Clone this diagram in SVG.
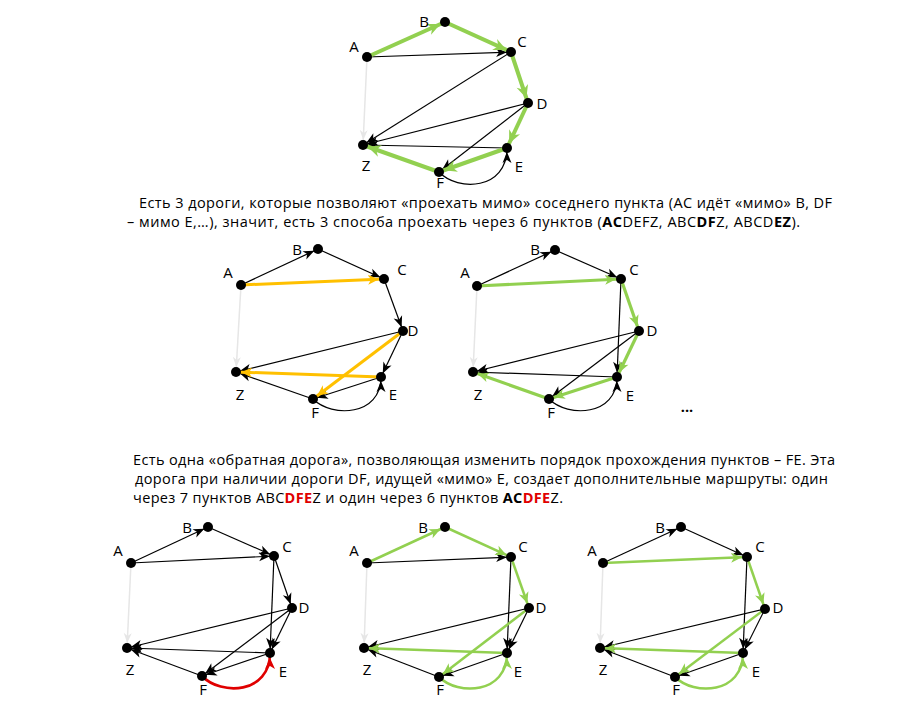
<svg xmlns="http://www.w3.org/2000/svg" width="906" height="716" viewBox="0 0 906 716">
<style>
.k{stroke:#000;stroke-width:1.2;fill:none;marker-end:url(#mk)}
.w{stroke:#e6e6e6;stroke-width:1.5;fill:none;marker-end:url(#mw)}
.g4{stroke:#92D050;stroke-width:4;fill:none;marker-end:url(#mg4)}
.g3{stroke:#92D050;stroke-width:3.2;fill:none;marker-end:url(#mg)}
.g2{stroke:#92D050;stroke-width:2.5;fill:none;marker-end:url(#mg)}
.o{stroke:#FFC000;stroke-width:3;fill:none;marker-end:url(#mo)}
.r{stroke:#E00000;stroke-width:2.6;fill:none;marker-end:url(#mr)}
.n circle{fill:#000}
.n text{font-family:"Open Sans","Liberation Sans",sans-serif;font-size:15px;text-anchor:middle;fill:#000}
.t{font-family:"Open Sans","Liberation Sans",sans-serif;font-size:14.5px;fill:#000}
.b{font-weight:bold}
.rd{font-weight:bold;fill:#E00000}
</style>
<defs>
<marker id="mk" markerUnits="userSpaceOnUse" markerWidth="20" markerHeight="10" refX="15" refY="4.5" orient="auto" overflow="visible"><path d="M0,0 L11,4.5 L0,9 L3,4.5 z" fill="#000"/></marker>
<marker id="mw" markerUnits="userSpaceOnUse" markerWidth="20" markerHeight="10" refX="15" refY="4" orient="auto" overflow="visible"><path d="M0,0 L10,4 L0,8 L3,4 z" fill="#e6e6e6"/></marker>
<marker id="mg4" markerUnits="userSpaceOnUse" markerWidth="24" markerHeight="14" refX="18" refY="6" orient="auto" overflow="visible"><path d="M0,0 L13,6 L0,12 L4,6 z" fill="#92D050"/></marker>
<marker id="mg" markerUnits="userSpaceOnUse" markerWidth="22" markerHeight="12" refX="16" refY="5" orient="auto" overflow="visible"><path d="M0,0 L11,5 L0,10 L3,5 z" fill="#92D050"/></marker>
<marker id="mo" markerUnits="userSpaceOnUse" markerWidth="22" markerHeight="12" refX="16" refY="5" orient="auto" overflow="visible"><path d="M0,0 L11,5 L0,10 L3,5 z" fill="#FFC000"/></marker>
<marker id="mr" markerUnits="userSpaceOnUse" markerWidth="22" markerHeight="12" refX="16" refY="5" orient="auto" overflow="visible"><path d="M0,0 L11,5 L0,10 L3,5 z" fill="#E00000"/></marker>
</defs>

<g id="connectors">
<g id="c1">
<line class="w" x1="367" y1="57" x2="363" y2="145"/>
<line class="k" x1="367" y1="57" x2="511" y2="52"/>
<line class="k" x1="511" y1="52" x2="363" y2="145"/>
<line class="k" x1="528" y1="103" x2="363" y2="145"/>
<line class="k" x1="507" y1="148" x2="363" y2="145"/>
<line class="k" x1="528" y1="103" x2="439" y2="172"/>
<path class="k" d="M439,172 C458,192 507,190 507,148"/>
<line class="g4" x1="367" y1="57" x2="445" y2="22"/>
<line class="g4" x1="445" y1="22" x2="511" y2="52"/>
<line class="g4" x1="511" y1="52" x2="528" y2="103"/>
<line class="g4" x1="528" y1="103" x2="507" y2="148"/>
<line class="g4" x1="507" y1="148" x2="439" y2="172"/>
<line class="g4" x1="439" y1="172" x2="363" y2="145"/>
</g>
<g id="c2">
<line class="w" x1="241" y1="285" x2="236" y2="372"/>
<line class="k" x1="241" y1="285" x2="318" y2="249"/>
<line class="k" x1="318" y1="249" x2="384" y2="279"/>
<line class="k" x1="384" y1="279" x2="403" y2="331"/>
<line class="k" x1="403" y1="331" x2="381" y2="377"/>
<line class="k" x1="381" y1="377" x2="313" y2="399"/>
<line class="k" x1="313" y1="399" x2="236" y2="372"/>
<line class="k" x1="403" y1="331" x2="236" y2="372"/>
<path class="k" d="M313,399 C332,418 381,416 381,377"/>
<line class="o" x1="241" y1="285" x2="384" y2="279"/>
<line class="o" x1="381" y1="377" x2="236" y2="372"/>
<line class="o" x1="403" y1="331" x2="313" y2="399"/>
</g>
<g id="c3">
<line class="w" x1="477" y1="286" x2="473" y2="372"/>
<line class="k" x1="477" y1="286" x2="555" y2="250"/>
<line class="k" x1="555" y1="250" x2="621" y2="279"/>
<line class="k" x1="621" y1="279" x2="617" y2="377"/>
<line class="k" x1="639" y1="331" x2="473" y2="372"/>
<line class="k" x1="617" y1="377" x2="473" y2="372"/>
<line class="k" x1="639" y1="331" x2="549" y2="399"/>
<path class="k" d="M549,399 C568,418 617,416 617,377"/>
<line class="g3" x1="477" y1="286" x2="621" y2="279"/>
<line class="g3" x1="621" y1="279" x2="639" y2="331"/>
<line class="g3" x1="639" y1="331" x2="617" y2="377"/>
<line class="g3" x1="617" y1="377" x2="549" y2="399"/>
<line class="g3" x1="549" y1="399" x2="473" y2="372"/>
</g>
<g id="c4">
<line class="w" x1="131" y1="563" x2="127" y2="648"/>
<line class="k" x1="131" y1="563" x2="208" y2="527"/>
<line class="k" x1="208" y1="527" x2="274" y2="556"/>
<line class="k" x1="131" y1="563" x2="274" y2="556"/>
<line class="k" x1="274" y1="556" x2="292" y2="608"/>
<line class="k" x1="274" y1="556" x2="270" y2="653"/>
<line class="k" x1="292" y1="608" x2="270" y2="653"/>
<line class="k" x1="292" y1="608" x2="202" y2="676"/>
<line class="k" x1="292" y1="608" x2="127" y2="648"/>
<line class="k" x1="270" y1="653" x2="127" y2="648"/>
<line class="k" x1="270" y1="653" x2="202" y2="676"/>
<line class="k" x1="202" y1="676" x2="127" y2="648"/>
<path class="r" d="M202,676 C221,696 270,694 270,653"/>
</g>
<g id="c5">
<line class="w" x1="367" y1="563" x2="364" y2="648"/>
<line class="k" x1="367" y1="563" x2="511" y2="557"/>
<line class="k" x1="511" y1="557" x2="507" y2="653"/>
<line class="k" x1="529" y1="608" x2="507" y2="653"/>
<line class="k" x1="529" y1="608" x2="364" y2="648"/>
<line class="k" x1="507" y1="653" x2="439" y2="677"/>
<line class="k" x1="439" y1="677" x2="364" y2="648"/>
<line class="g2" x1="367" y1="563" x2="445" y2="527"/>
<line class="g2" x1="445" y1="527" x2="511" y2="557"/>
<line class="g2" x1="511" y1="557" x2="529" y2="608"/>
<line class="g2" x1="529" y1="608" x2="439" y2="677"/>
<path class="g2" d="M439,677 C458,696 507,694 507,653"/>
<line class="g2" x1="507" y1="653" x2="364" y2="648"/>
</g>
<g id="c6">
<line class="w" x1="603" y1="563" x2="600" y2="648"/>
<line class="k" x1="603" y1="563" x2="681" y2="527"/>
<line class="k" x1="681" y1="527" x2="747" y2="557"/>
<line class="k" x1="747" y1="557" x2="743" y2="653"/>
<line class="k" x1="765" y1="609" x2="743" y2="653"/>
<line class="k" x1="765" y1="609" x2="600" y2="648"/>
<line class="k" x1="743" y1="653" x2="675" y2="677"/>
<line class="k" x1="675" y1="677" x2="600" y2="648"/>
<line class="g2" x1="603" y1="563" x2="747" y2="557"/>
<line class="g2" x1="747" y1="557" x2="765" y2="609"/>
<line class="g2" x1="765" y1="609" x2="675" y2="677"/>
<path class="g2" d="M675,677 C694,696 743,694 743,653"/>
<line class="g2" x1="743" y1="653" x2="600" y2="648"/>
</g>
</g>

<g id="g1-A" class="n"><circle cx="367" cy="57" r="5"/><text x="354" y="52">A</text></g>
<g id="g1-B" class="n"><circle cx="445" cy="22" r="5"/><text x="424" y="27">B</text></g>
<g id="g1-C" class="n"><circle cx="511" cy="52" r="5"/><text x="522" y="47">C</text></g>
<g id="g1-D" class="n"><circle cx="528" cy="103" r="5"/><text x="542" y="109">D</text></g>
<g id="g1-E" class="n"><circle cx="507" cy="148" r="5"/><text x="519" y="172">E</text></g>
<g id="g1-F" class="n"><circle cx="439" cy="172" r="5"/><text x="440" y="188">F</text></g>
<g id="g1-Z" class="n"><circle cx="363" cy="145" r="5"/><text x="366" y="171">Z</text></g>

<g id="g2-A" class="n"><circle cx="241" cy="285" r="5"/><text x="228" y="278">A</text></g>
<g id="g2-B" class="n"><circle cx="318" cy="249" r="5"/><text x="297" y="255">B</text></g>
<g id="g2-C" class="n"><circle cx="384" cy="279" r="5"/><text x="402" y="275">C</text></g>
<g id="g2-D" class="n"><circle cx="403" cy="331" r="5"/><text x="413" y="336">D</text></g>
<g id="g2-E" class="n"><circle cx="381" cy="377" r="5"/><text x="393" y="400">E</text></g>
<g id="g2-F" class="n"><circle cx="313" cy="399" r="5"/><text x="315" y="418">F</text></g>
<g id="g2-Z" class="n"><circle cx="236" cy="372" r="5"/><text x="240" y="400">Z</text></g>

<g id="g3-A" class="n"><circle cx="477" cy="286" r="5"/><text x="465" y="278">A</text></g>
<g id="g3-B" class="n"><circle cx="555" cy="250" r="5"/><text x="535" y="255">B</text></g>
<g id="g3-C" class="n"><circle cx="621" cy="279" r="5"/><text x="634" y="275">C</text></g>
<g id="g3-D" class="n"><circle cx="639" cy="331" r="5"/><text x="652" y="336">D</text></g>
<g id="g3-E" class="n"><circle cx="617" cy="377" r="5"/><text x="630" y="401">E</text></g>
<g id="g3-F" class="n"><circle cx="549" cy="399" r="5"/><text x="551" y="418">F</text></g>
<g id="g3-Z" class="n"><circle cx="473" cy="372" r="5"/><text x="478" y="400">Z</text></g>
<text class="t b" x="687" y="412" text-anchor="middle">...</text>

<g id="g4-A" class="n"><circle cx="131" cy="563" r="5"/><text x="118" y="556">A</text></g>
<g id="g4-B" class="n"><circle cx="208" cy="527" r="5"/><text x="187" y="533">B</text></g>
<g id="g4-C" class="n"><circle cx="274" cy="556" r="5"/><text x="287" y="552">C</text></g>
<g id="g4-D" class="n"><circle cx="292" cy="608" r="5"/><text x="304" y="613">D</text></g>
<g id="g4-E" class="n"><circle cx="270" cy="653" r="5"/><text x="283" y="677">E</text></g>
<g id="g4-F" class="n"><circle cx="202" cy="676" r="5"/><text x="203" y="695">F</text></g>
<g id="g4-Z" class="n"><circle cx="127" cy="648" r="5"/><text x="130" y="675">Z</text></g>

<g id="g5-A" class="n"><circle cx="367" cy="563" r="5"/><text x="354" y="556">A</text></g>
<g id="g5-B" class="n"><circle cx="445" cy="527" r="5"/><text x="423" y="533">B</text></g>
<g id="g5-C" class="n"><circle cx="511" cy="557" r="5"/><text x="523" y="552">C</text></g>
<g id="g5-D" class="n"><circle cx="529" cy="608" r="5"/><text x="541" y="613">D</text></g>
<g id="g5-E" class="n"><circle cx="507" cy="653" r="5"/><text x="518" y="677">E</text></g>
<g id="g5-F" class="n"><circle cx="439" cy="677" r="5"/><text x="440" y="695">F</text></g>
<g id="g5-Z" class="n"><circle cx="364" cy="648" r="5"/><text x="367" y="675">Z</text></g>

<g id="g6-A" class="n"><circle cx="603" cy="563" r="5"/><text x="592" y="556">A</text></g>
<g id="g6-B" class="n"><circle cx="681" cy="527" r="5"/><text x="660" y="533">B</text></g>
<g id="g6-C" class="n"><circle cx="747" cy="557" r="5"/><text x="760" y="552">C</text></g>
<g id="g6-D" class="n"><circle cx="765" cy="609" r="5"/><text x="778" y="613">D</text></g>
<g id="g6-E" class="n"><circle cx="743" cy="653" r="5"/><text x="756" y="677">E</text></g>
<g id="g6-F" class="n"><circle cx="675" cy="677" r="5"/><text x="676" y="695">F</text></g>
<g id="g6-Z" class="n"><circle cx="600" cy="648" r="5"/><text x="603" y="675">Z</text></g>

<g id="text1" class="t">
<text x="139" y="208" textLength="693">Есть 3 дороги, которые позволяют «проехать мимо» соседнего пункта (АС идёт «мимо» В, DF</text>
<text x="127" y="227" textLength="673">– мимо Е,…), значит, есть 3 способа проехать через 6 пунктов (<tspan class="b">AC</tspan>DEFZ, ABC<tspan class="b">DF</tspan>Z, ABCD<tspan class="b">EZ</tspan>).</text>
</g>
<g id="text2" class="t">
<text x="133" y="465" textLength="702">Есть одна «обратная дорога», позволяющая изменить порядок прохождения пунктов – FE. Эта</text>
<text x="135" y="484" textLength="693">дорога при наличии дороги DF, идущей «мимо» Е, создает дополнительные маршруты: один</text>
<text x="133" y="503" textLength="430">через 7 пунктов ABC<tspan class="rd">DFE</tspan>Z и один через 6 пунктов <tspan class="b">AC</tspan><tspan class="rd">DFE</tspan>Z.</text>
</g>
</svg>
